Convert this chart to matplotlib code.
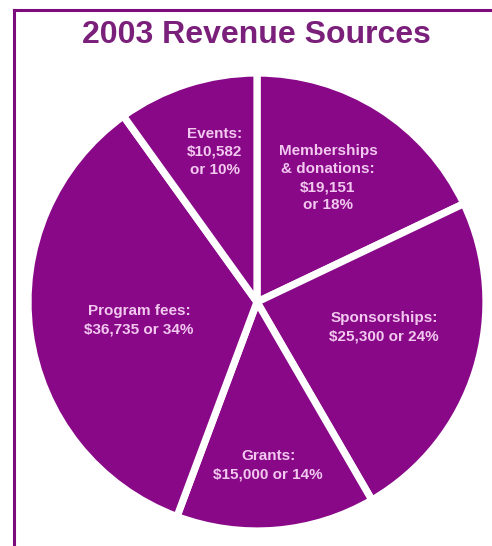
import matplotlib
matplotlib.use("Agg")
import matplotlib.pyplot as plt
from matplotlib.lines import Line2D

# Data
categories = ["Memberships\n& donations:", "Sponsorships:", "Grants:", "Program fees:", "Events:"]
values = [19151, 25300, 15000, 36735, 10582]
percents = [18, 24, 14, 34, 10]
label_texts = [
    "Memberships\n& donations:\n$19,151\nor 18%",
    "Sponsorships:\n$25,300 or 24%",
    "Grants:\n$15,000 or 14%",
    "Program fees:\n$36,735 or 34%",
    "Events:\n$10,582\nor 10%",
]
title = "2003 Revenue Sources"

# Layout (pixel coordinates, y measured from top)
W, H = 492, 546
center_px = (257, 302)
radius_px = 229
label_pos_px = [(328, 178), (384, 327), (268, 465), (139, 320), (215, 152)]

purple = "#880888"
text_col = "#f2c8ef"
title_col = "#7a1f7a"
border_col = "#7c0c7c"

fig = plt.figure(figsize=(W / 100, H / 100), dpi=100)
fig.patch.set_facecolor("white")
ax = fig.add_axes([0, 0, 1, 1])

ax.pie(values, startangle=90, counterclock=False,
       center=(center_px[0], H - center_px[1]), radius=radius_px,
       colors=[purple] * len(values),
       wedgeprops=dict(edgecolor="white", linewidth=5.2),
       frame=True)
ax.set_xlim(0, W)
ax.set_ylim(0, H)
ax.set_aspect("equal")
ax.axis("off")

for txt, (x, y) in zip(label_texts, label_pos_px):
    ax.text(x, H - y, txt, ha="center", va="center", color=text_col,
            fontsize=11, fontweight="bold", family="Liberation Sans",
            linespacing=1.38)

ax.text(256, H - 35, title, ha="center", va="center", color=title_col,
        fontsize=23, fontweight="bold", family="Liberation Sans")

# Frame lines (top and left)
fig.add_artist(Line2D([14 / W, 1.0], [1 - 10 / H, 1 - 10 / H],
                      transform=fig.transFigure, color=border_col, linewidth=2.2))
fig.add_artist(Line2D([14 / W, 14 / W], [1 - 10 / H, 0],
                      transform=fig.transFigure, color=border_col, linewidth=2.2))

fig.savefig("out.png", dpi=100, facecolor="white")
